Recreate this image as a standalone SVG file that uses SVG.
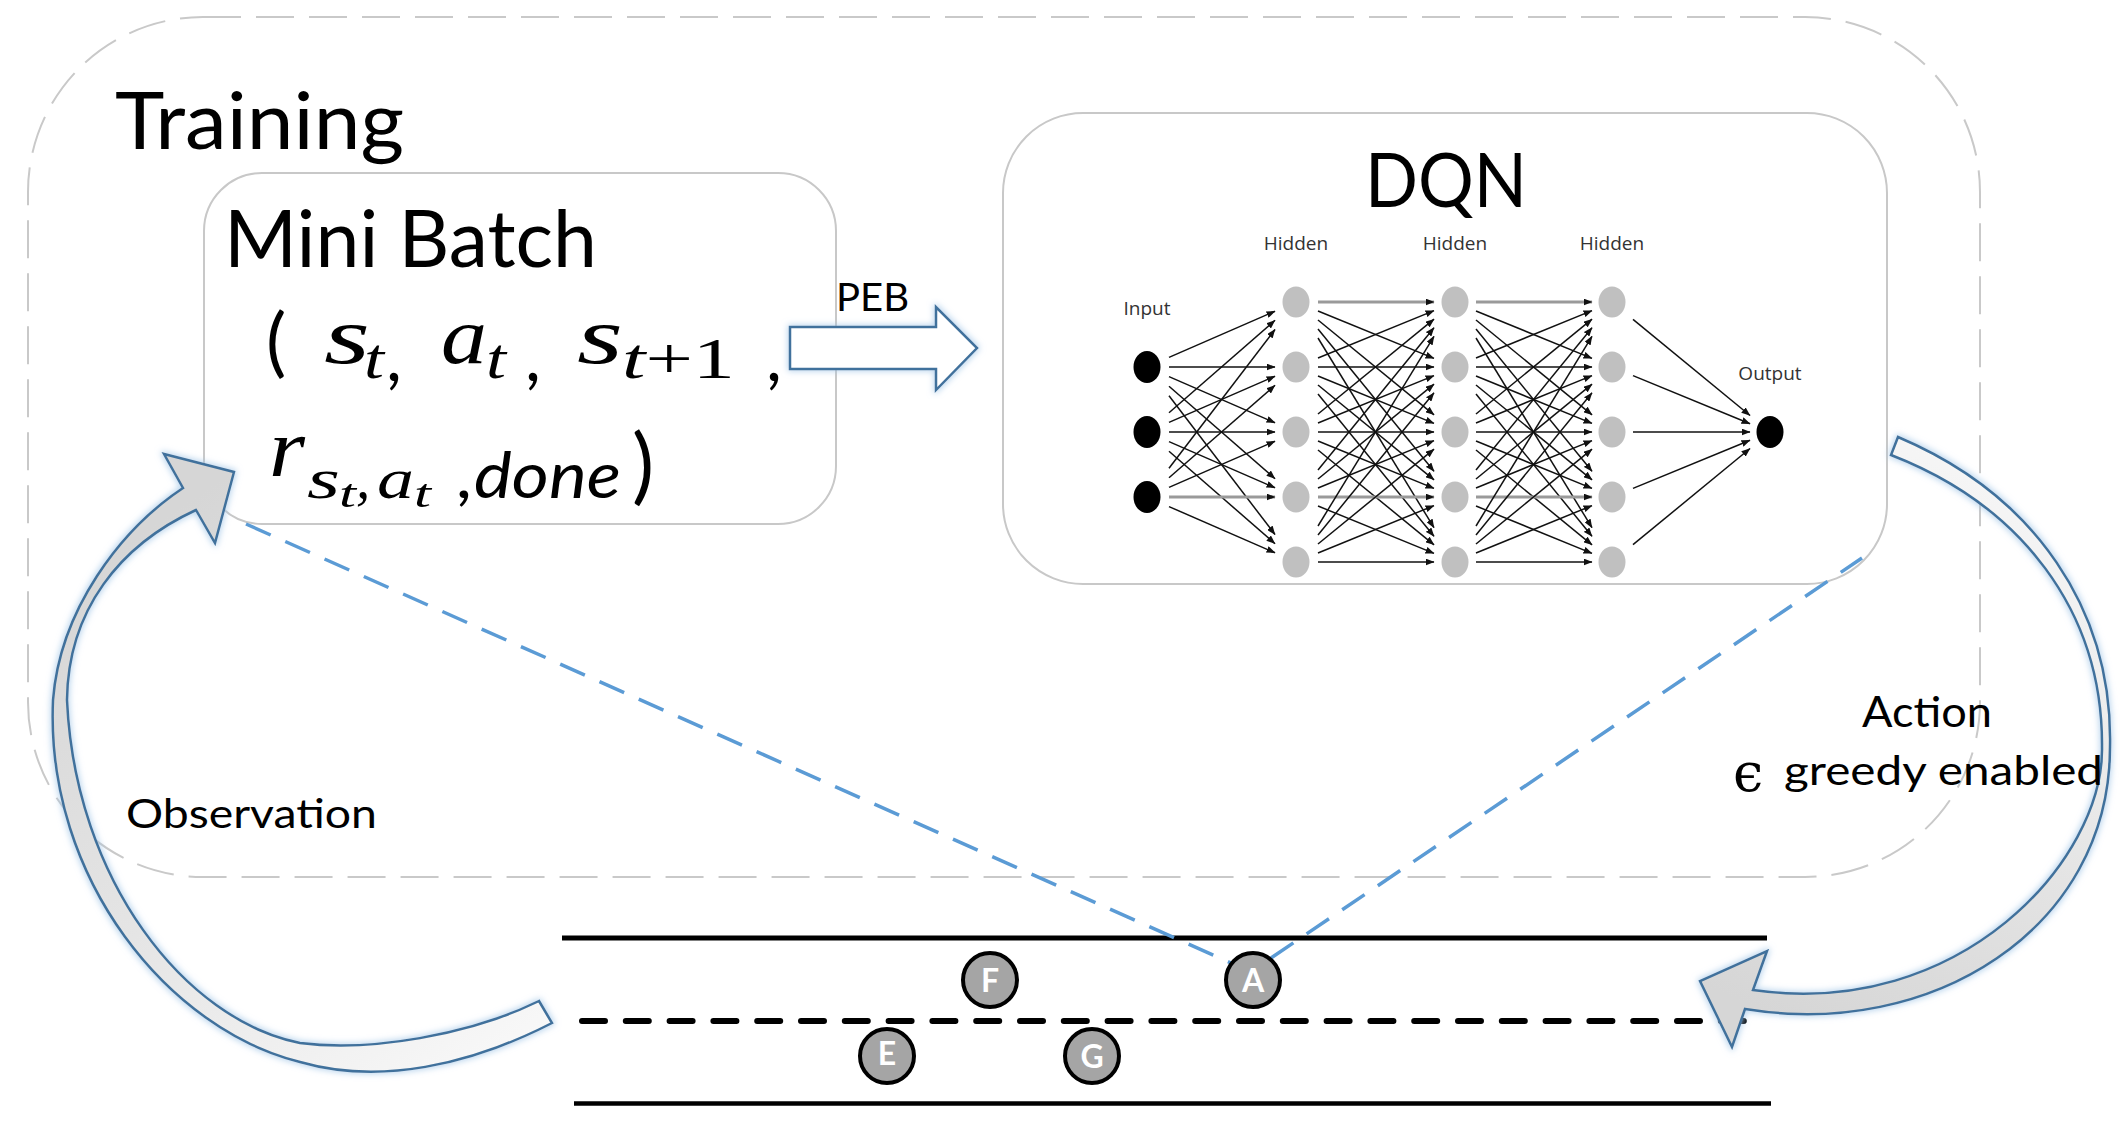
<svg xmlns="http://www.w3.org/2000/svg" width="2127" height="1139" viewBox="0 0 2127 1139">
<defs>
<style>
.outer{fill:none;stroke:#c9c9c9;stroke-width:2;stroke-dasharray:38 15}
.box{fill:#fff;stroke:#c8c8c8;stroke-width:2}
.sans{font-family:Lato,"Liberation Sans",sans-serif;fill:#000}
.math{font-family:"Liberation Serif","DejaVu Serif",serif;font-style:italic;fill:#000}
.lbl{font-family:"Open Sans","Liberation Sans",sans-serif;font-size:19px;fill:#333;text-anchor:middle}
.w{stroke:#111;stroke-width:1.5;fill:none;marker-end:url(#ah)}
.g{stroke:#9a9a9a;stroke-width:2.8;fill:none;marker-end:url(#ah)}
.hid{fill:#c0c0c0}
.blk{fill:#000}
.blue{stroke:#5b9bd5;stroke-width:3.5;stroke-dasharray:27 16;fill:none}
.road{stroke:#000;fill:none}
.car{fill:#a5a5a5;stroke:#000;stroke-width:4}
.carT{font-family:Lato,"Liberation Sans",sans-serif;font-weight:700;font-size:32px;fill:#fff;text-anchor:middle}
.barrow{stroke:#41719c;stroke-width:2.5;stroke-linejoin:miter}
</style>
<marker id="ah" markerUnits="userSpaceOnUse" markerWidth="9" markerHeight="7" refX="8.5" refY="3.5" orient="auto">
<path d="M0,0 L9,3.5 L0,7 Z" fill="#111"/>
</marker>
<linearGradient id="gObs" gradientUnits="userSpaceOnUse" x1="190" y1="500" x2="550" y2="1030">
<stop offset="0" stop-color="#d6d6d6"/><stop offset="0.55" stop-color="#e6e6e6"/><stop offset="1" stop-color="#f8f8f8"/>
</linearGradient>
<linearGradient id="gAct" gradientUnits="userSpaceOnUse" x1="1740" y1="1000" x2="1960" y2="450">
<stop offset="0" stop-color="#d6d6d6"/><stop offset="0.5" stop-color="#e8e8e8"/><stop offset="1" stop-color="#f6f6f6"/>
</linearGradient>
<filter id="glow" x="-10%" y="-10%" width="120%" height="120%">
<feMorphology operator="dilate" radius="1" in="SourceAlpha" result="d"/>
<feGaussianBlur in="d" stdDeviation="3" result="b"/>
<feFlood flood-color="#9dc3e6" flood-opacity="0.7"/>
<feComposite in2="b" operator="in" result="gl"/>
<feMerge><feMergeNode in="gl"/><feMergeNode in="SourceGraphic"/></feMerge>
</filter>
<g id="hh">
<line class="g" x1="0" y1="302" x2="116" y2="302"/>
<line class="w" x1="0" y1="311" x2="116" y2="358.4"/>
<line class="w" x1="0" y1="320" x2="116" y2="414.8"/>
<line class="w" x1="0" y1="329" x2="116" y2="471.3"/>
<line class="w" x1="0" y1="338" x2="116" y2="527.7"/>
<line class="w" x1="0" y1="358" x2="116" y2="310.6"/>
<line class="w" x1="0" y1="367" x2="116" y2="367"/>
<line class="w" x1="0" y1="376" x2="116" y2="423.4"/>
<line class="w" x1="0" y1="385" x2="116" y2="479.8"/>
<line class="w" x1="0" y1="394" x2="116" y2="536.3"/>
<line class="w" x1="0" y1="414" x2="116" y2="319.2"/>
<line class="w" x1="0" y1="423" x2="116" y2="375.6"/>
<line class="w" x1="0" y1="432" x2="116" y2="432"/>
<line class="w" x1="0" y1="441" x2="116" y2="488.4"/>
<line class="w" x1="0" y1="450" x2="116" y2="544.8"/>
<line class="w" x1="0" y1="470" x2="116" y2="327.7"/>
<line class="w" x1="0" y1="479" x2="116" y2="384.2"/>
<line class="w" x1="0" y1="488" x2="116" y2="440.6"/>
<line class="g" x1="0" y1="497" x2="116" y2="497"/>
<line class="w" x1="0" y1="506" x2="116" y2="553.4"/>
<line class="w" x1="0" y1="526" x2="116" y2="336.3"/>
<line class="w" x1="0" y1="535" x2="116" y2="392.8"/>
<line class="w" x1="0" y1="544" x2="116" y2="449.2"/>
<line class="w" x1="0" y1="553" x2="116" y2="505.6"/>
<line class="w" x1="0" y1="562" x2="116" y2="562"/>
</g>
<g id="hcol">
<ellipse class="hid" cx="0" cy="302" rx="13.5" ry="15.5"/>
<ellipse class="hid" cx="0" cy="367" rx="13.5" ry="15.5"/>
<ellipse class="hid" cx="0" cy="432" rx="13.5" ry="15.5"/>
<ellipse class="hid" cx="0" cy="497" rx="13.5" ry="15.5"/>
<ellipse class="hid" cx="0" cy="562" rx="13.5" ry="15.5"/>
</g>
</defs>

<rect width="2127" height="1139" fill="#fff"/>

<g id="training">
<rect class="outer" x="28" y="17" width="1952" height="860" rx="175" ry="175"/>
<text class="sans" x="115" y="149" font-size="79" textLength="289" lengthAdjust="spacingAndGlyphs">Training</text>
</g>

<g id="minibatch">
<rect class="box" x="204" y="173" width="632" height="351" rx="58" ry="58"/>
<text class="sans" x="224" y="267" font-size="79" textLength="373" lengthAdjust="spacingAndGlyphs">Mini Batch</text>
<text class="sans" x="266" y="368" font-size="76">(</text>
<text class="math" x="324" y="363" font-size="80" textLength="46" lengthAdjust="spacingAndGlyphs">s</text>
<text class="math" x="364" y="378" font-size="57" textLength="20" lengthAdjust="spacingAndGlyphs">t</text>
<text class="sans" x="386" y="381" font-size="70">,</text>
<text class="math" x="441" y="363" font-size="80" textLength="46" lengthAdjust="spacingAndGlyphs">a</text>
<text class="math" x="486" y="378" font-size="57" textLength="20" lengthAdjust="spacingAndGlyphs">t</text>
<text class="sans" x="525" y="381" font-size="70">,</text>
<text class="math" x="577" y="363" font-size="80" textLength="46" lengthAdjust="spacingAndGlyphs">s</text>
<text class="math" x="622" y="378" font-size="57" textLength="113" lengthAdjust="spacingAndGlyphs">t<tspan font-style="normal">+1</tspan></text>
<text class="sans" x="766" y="381" font-size="70">,</text>
<text class="math" x="269" y="476" font-size="82" textLength="36" lengthAdjust="spacingAndGlyphs">r</text>
<text class="math" x="307" y="498" font-size="57" textLength="33" lengthAdjust="spacingAndGlyphs">s</text>
<text class="math" x="339" y="507" font-size="40" textLength="17" lengthAdjust="spacingAndGlyphs">t</text>
<text class="math" x="356" y="498" font-size="57" font-style="normal">,</text>
<text class="math" x="377" y="498" font-size="57" textLength="37" lengthAdjust="spacingAndGlyphs">a</text>
<text class="math" x="414" y="507" font-size="40" textLength="17" lengthAdjust="spacingAndGlyphs">t</text>
<text class="sans" x="458" y="498" font-size="64" font-style="italic" textLength="163" lengthAdjust="spacingAndGlyphs">,done</text>
<text class="sans" x="632" y="494" font-size="83">)</text>
</g>

<g id="dqn">
<rect class="box" x="1003" y="113" width="884" height="471" rx="80" ry="80"/>
<text class="sans" x="1365" y="207" font-size="76" textLength="162" lengthAdjust="spacingAndGlyphs">DQN</text>
<text class="lbl" x="1296" y="250">Hidden</text>
<text class="lbl" x="1455" y="250">Hidden</text>
<text class="lbl" x="1612" y="250">Hidden</text>
<text class="lbl" x="1147" y="315">Input</text>
<text class="lbl" x="1770" y="380">Output</text>
<g id="edges-in">
<line class="w" x1="1169" y1="357.4" x2="1275" y2="311.2"/>
<line class="w" x1="1169" y1="367" x2="1275" y2="367"/>
<line class="w" x1="1169" y1="376.6" x2="1275" y2="422.8"/>
<line class="w" x1="1169" y1="386.2" x2="1275" y2="478.7"/>
<line class="w" x1="1169" y1="395.8" x2="1275" y2="534.5"/>
<line class="w" x1="1169" y1="412.8" x2="1275" y2="320.3"/>
<line class="w" x1="1169" y1="422.4" x2="1275" y2="376.2"/>
<line class="w" x1="1169" y1="432" x2="1275" y2="432"/>
<line class="w" x1="1169" y1="441.6" x2="1275" y2="487.8"/>
<line class="w" x1="1169" y1="451.2" x2="1275" y2="543.7"/>
<line class="w" x1="1169" y1="468.2" x2="1275" y2="329.5"/>
<line class="w" x1="1169" y1="477.8" x2="1275" y2="385.3"/>
<line class="w" x1="1169" y1="487.4" x2="1275" y2="441.2"/>
<line class="g" x1="1169" y1="497" x2="1275" y2="497"/>
<line class="w" x1="1169" y1="506.6" x2="1275" y2="552.8"/>
</g>
<use href="#hh" transform="translate(1318,0)"/>
<use href="#hh" transform="translate(1476,0)"/>
<g id="edges-out">
<line class="w" x1="1633" y1="319.3" x2="1750" y2="415.5"/>
<line class="w" x1="1633" y1="375.6" x2="1750" y2="423.7"/>
<line class="w" x1="1633" y1="432" x2="1750" y2="432"/>
<line class="w" x1="1633" y1="488.4" x2="1750" y2="440.3"/>
<line class="w" x1="1633" y1="544.7" x2="1750" y2="448.5"/>
</g>
<ellipse class="blk" cx="1147" cy="367" rx="13.5" ry="16"/>
<ellipse class="blk" cx="1147" cy="432" rx="13.5" ry="16"/>
<ellipse class="blk" cx="1147" cy="497" rx="13.5" ry="16"/>
<use href="#hcol" transform="translate(1296,0)"/>
<use href="#hcol" transform="translate(1455,0)"/>
<use href="#hcol" transform="translate(1612,0)"/>
<ellipse class="blk" cx="1770" cy="432" rx="13.5" ry="16"/>
</g>

<g id="road">
<line class="road" x1="562" y1="938" x2="1767" y2="938" stroke-width="5"/>
<line class="road" x1="582" y1="1021" x2="1750" y2="1021" stroke-width="6" stroke-dasharray="23 20.8" stroke-linecap="round"/>
<line class="road" x1="574" y1="1103.5" x2="1771" y2="1103.5" stroke-width="4.5"/>
</g>

<g id="connectors">
<path id="peb-arrow" class="barrow" fill="#fff" filter="url(#glow)" d="M790,327 L936,327 L936,307 L977,348 L936,390 L936,369 L790,369 Z"/>
<text class="sans" x="836" y="311" font-size="39" textLength="73" lengthAdjust="spacingAndGlyphs">PEB</text>
<line class="blue" x1="246" y1="524" x2="1231" y2="963"/>
<line class="blue" x1="1271" y1="958" x2="1862" y2="558"/>
<path id="observation-arrow" class="barrow" fill="url(#gObs)" filter="url(#glow)" d="M183,488 L164,454 L234,472 L215,543 L196,510 C120,545 68,610 67,700 C75,880 185,1020 300,1043 C370,1052 470,1035 539,1001 L552,1023 C470,1065 380,1085 300,1062 C170,1030 45,880 53,700 C60,610 120,530 183,488 Z"/>
<path id="action-arrow" class="barrow" fill="url(#gAct)" filter="url(#glow)" d="M1898,437 C2035,495 2113,610 2110,747 C2110,930 1930,1040 1745,1009 L1732,1047 L1700,981 L1767,951 L1753,990 C1960,1020 2104,860 2102,747 C2103,610 2020,505 1891,455 Z"/>
</g>

<g id="vehicle-F"><circle class="car" cx="990" cy="980" r="27"/><text class="carT" x="990" y="992">F</text></g>
<g id="vehicle-A"><circle class="car" cx="1253" cy="980" r="27"/><text class="carT" x="1253" y="992">A</text></g>
<g id="vehicle-E"><circle class="car" cx="887" cy="1056" r="27"/><text class="carT" x="887" y="1065" font-size="25" font-weight="400" fill="#eee">E</text></g>
<g id="vehicle-G"><circle class="car" cx="1092" cy="1056" r="27"/><text class="carT" x="1092" y="1068">G</text></g>

<g id="labels">
<text class="sans" x="126" y="828" font-size="41" textLength="251" lengthAdjust="spacingAndGlyphs">Observation</text>
<text class="sans" x="1862" y="727" font-size="43" textLength="130" lengthAdjust="spacingAndGlyphs">Action</text>
<text x="1733" y="791" font-family="'DejaVu Serif',serif" font-size="54" fill="#000">ϵ</text>
<text class="sans" x="1784" y="785" font-size="40" textLength="319" lengthAdjust="spacingAndGlyphs">greedy enabled</text>
</g>
</svg>
